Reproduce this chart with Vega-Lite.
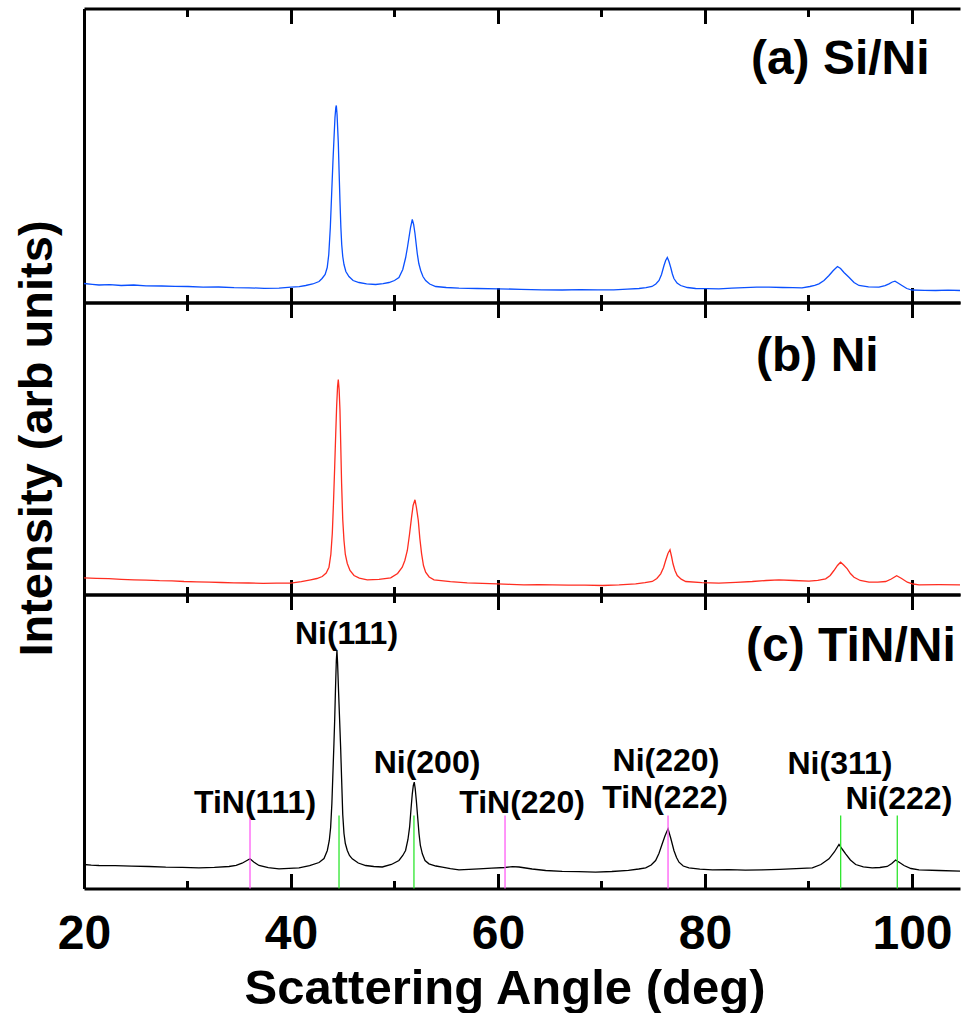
{
  "$schema": "https://vega.github.io/schema/vega-lite/v6.json",
  "padding": {"left": 12, "top": 6.5, "right": 0, "bottom": 0},
  "spacing": 0,
  "bounds": "flush",
  "config": {
    "view": {"stroke": null},
    "font": "Liberation Sans",
    "axis": {"grid": false, "domainColor": "black", "tickColor": "black", "labelColor": "black", "titleColor": "black"}
  },
  "datasets": {
    "siNi": [
      {"angle": 20.00, "intensity": 19}, {"angle": 20.8, "intensity": 18.2}, {"angle": 21.45, "intensity": 17.5}, {"angle": 22.5, "intensity": 17.8},
      {"angle": 23.6, "intensity": 17}, {"angle": 24.8, "intensity": 17.5}, {"angle": 26.0, "intensity": 16.6}, {"angle": 27.5, "intensity": 16.5},
      {"angle": 28.8, "intensity": 16.2}, {"angle": 30.05, "intensity": 16}, {"angle": 31.5, "intensity": 15.4}, {"angle": 33.0, "intensity": 15.5},
      {"angle": 34.5, "intensity": 14.8}, {"angle": 35.94, "intensity": 14.7}, {"angle": 37.4, "intensity": 14.2}, {"angle": 38.84, "intensity": 14.3},
      {"angle": 40.00, "intensity": 15.3}, {"angle": 40.8, "intensity": 15.8}, {"angle": 41.42, "intensity": 17}, {"angle": 42.1, "intensity": 18.5},
      {"angle": 42.71, "intensity": 21}, {"angle": 43.0, "intensity": 24}, {"angle": 43.3, "intensity": 28}, {"angle": 43.5, "intensity": 35},
      {"angle": 43.65, "intensity": 48}, {"angle": 43.8, "intensity": 75}, {"angle": 43.93, "intensity": 109}, {"angle": 44.05, "intensity": 140},
      {"angle": 44.15, "intensity": 163}, {"angle": 44.25, "intensity": 185}, {"angle": 44.33, "intensity": 195}, {"angle": 44.38, "intensity": 197},
      {"angle": 44.45, "intensity": 188}, {"angle": 44.57, "intensity": 160}, {"angle": 44.65, "intensity": 130}, {"angle": 44.73, "intensity": 102},
      {"angle": 44.82, "intensity": 75}, {"angle": 44.90, "intensity": 58}, {"angle": 45.0, "intensity": 46}, {"angle": 45.12, "intensity": 38},
      {"angle": 45.3, "intensity": 31}, {"angle": 45.6, "intensity": 26}, {"angle": 46.0, "intensity": 22}, {"angle": 46.57, "intensity": 20},
      {"angle": 47.3, "intensity": 18.6}, {"angle": 48.18, "intensity": 18}, {"angle": 48.9, "intensity": 18.8}, {"angle": 49.47, "intensity": 20},
      {"angle": 50.0, "intensity": 22}, {"angle": 50.43, "intensity": 25}, {"angle": 50.8, "intensity": 33}, {"angle": 51.08, "intensity": 45},
      {"angle": 51.25, "intensity": 55}, {"angle": 51.40, "intensity": 65}, {"angle": 51.55, "intensity": 75}, {"angle": 51.72, "intensity": 83},
      {"angle": 51.85, "intensity": 78}, {"angle": 51.98, "intensity": 69}, {"angle": 52.1, "intensity": 58}, {"angle": 52.20, "intensity": 49},
      {"angle": 52.35, "intensity": 39}, {"angle": 52.53, "intensity": 32}, {"angle": 52.75, "intensity": 26}, {"angle": 53.01, "intensity": 22},
      {"angle": 53.4, "intensity": 18.5}, {"angle": 53.98, "intensity": 16}, {"angle": 55.0, "intensity": 15}, {"angle": 56.23, "intensity": 14.3},
      {"angle": 58.0, "intensity": 14}, {"angle": 60.05, "intensity": 13.7}, {"angle": 62.2, "intensity": 13.2}, {"angle": 64.25, "intensity": 12.7},
      {"angle": 66.2, "intensity": 12.5}, {"angle": 68.0, "intensity": 12.9}, {"angle": 69.6, "intensity": 12.6}, {"angle": 71.18, "intensity": 12.7},
      {"angle": 72.5, "intensity": 13.3}, {"angle": 73.62, "intensity": 14}, {"angle": 74.3, "intensity": 14.8}, {"angle": 74.88, "intensity": 16},
      {"angle": 75.25, "intensity": 18.5}, {"angle": 75.56, "intensity": 22}, {"angle": 75.8, "intensity": 28}, {"angle": 76.04, "intensity": 37},
      {"angle": 76.2, "intensity": 42}, {"angle": 76.36, "intensity": 45}, {"angle": 76.52, "intensity": 41}, {"angle": 76.69, "intensity": 35},
      {"angle": 76.85, "intensity": 28.5}, {"angle": 77.00, "intensity": 24}, {"angle": 77.3, "intensity": 19.5}, {"angle": 77.65, "intensity": 17},
      {"angle": 78.3, "intensity": 15}, {"angle": 79.10, "intensity": 14}, {"angle": 80.2, "intensity": 13.8}, {"angle": 81.35, "intensity": 13.7},
      {"angle": 82.6, "intensity": 14.3}, {"angle": 83.8, "intensity": 14.8}, {"angle": 85.00, "intensity": 15.3}, {"angle": 86.18, "intensity": 15.3},
      {"angle": 87.5, "intensity": 15}, {"angle": 88.5, "intensity": 14.8}, {"angle": 89.37, "intensity": 14.7}, {"angle": 90.14, "intensity": 16},
      {"angle": 90.6, "intensity": 17.2}, {"angle": 91.01, "intensity": 18.7}, {"angle": 91.5, "intensity": 22}, {"angle": 91.98, "intensity": 27},
      {"angle": 92.40, "intensity": 32}, {"angle": 92.80, "intensity": 36}, {"angle": 93.1, "intensity": 34}, {"angle": 93.43, "intensity": 30},
      {"angle": 93.91, "intensity": 25.3}, {"angle": 94.4, "intensity": 20}, {"angle": 94.88, "intensity": 17}, {"angle": 95.8, "intensity": 15.6},
      {"angle": 96.81, "intensity": 15.3}, {"angle": 97.4, "intensity": 16.8}, {"angle": 97.78, "intensity": 18.7}, {"angle": 98.1, "intensity": 20.5},
      {"angle": 98.36, "intensity": 21.3}, {"angle": 98.65, "intensity": 19.5}, {"angle": 99.03, "intensity": 17}, {"angle": 99.5, "intensity": 14},
      {"angle": 100.0, "intensity": 12.5}, {"angle": 101.2, "intensity": 12.2}, {"angle": 102.29, "intensity": 12}, {"angle": 103.5, "intensity": 12.3},
      {"angle": 104.64, "intensity": 12}
    ],
    "ni": [
      {"angle": 20.00, "intensity": 16.7}, {"angle": 21.2, "intensity": 16.2}, {"angle": 22.4, "intensity": 15.8}, {"angle": 23.6, "intensity": 15.2},
      {"angle": 24.83, "intensity": 14.7}, {"angle": 26.0, "intensity": 14.4}, {"angle": 27.3, "intensity": 13.8}, {"angle": 28.5, "intensity": 13.6},
      {"angle": 29.66, "intensity": 13}, {"angle": 30.9, "intensity": 12.7}, {"angle": 32.1, "intensity": 12.4}, {"angle": 33.3, "intensity": 12},
      {"angle": 34.49, "intensity": 11.7}, {"angle": 35.9, "intensity": 11.5}, {"angle": 37.3, "intensity": 11.2}, {"angle": 38.6, "intensity": 11.4},
      {"angle": 39.97, "intensity": 11.3}, {"angle": 41.0, "intensity": 12.8}, {"angle": 41.90, "intensity": 14.7}, {"angle": 42.5, "intensity": 16},
      {"angle": 43.02, "intensity": 18}, {"angle": 43.4, "intensity": 21.5}, {"angle": 43.67, "intensity": 27.3}, {"angle": 43.85, "intensity": 40},
      {"angle": 43.99, "intensity": 61}, {"angle": 44.1, "intensity": 90}, {"angle": 44.22, "intensity": 127}, {"angle": 44.32, "intensity": 160},
      {"angle": 44.41, "intensity": 188}, {"angle": 44.5, "intensity": 208}, {"angle": 44.57, "intensity": 215}, {"angle": 44.65, "intensity": 205},
      {"angle": 44.73, "intensity": 185}, {"angle": 44.81, "intensity": 148}, {"angle": 44.89, "intensity": 111}, {"angle": 45.0, "intensity": 75},
      {"angle": 45.12, "intensity": 54}, {"angle": 45.25, "intensity": 40}, {"angle": 45.44, "intensity": 31}, {"angle": 45.7, "intensity": 24},
      {"angle": 46.09, "intensity": 19}, {"angle": 46.6, "intensity": 16.3}, {"angle": 47.37, "intensity": 14.7}, {"angle": 48.5, "intensity": 15.2},
      {"angle": 49.63, "intensity": 16.7}, {"angle": 50.3, "intensity": 21}, {"angle": 50.75, "intensity": 27.3}, {"angle": 51.0, "intensity": 34},
      {"angle": 51.24, "intensity": 44}, {"angle": 51.45, "intensity": 60}, {"angle": 51.65, "intensity": 77.3}, {"angle": 51.8, "intensity": 89},
      {"angle": 51.98, "intensity": 94.7}, {"angle": 52.12, "intensity": 87}, {"angle": 52.30, "intensity": 74}, {"angle": 52.45, "intensity": 56},
      {"angle": 52.62, "intensity": 40.7}, {"angle": 52.8, "intensity": 29}, {"angle": 53.01, "intensity": 22.3}, {"angle": 53.35, "intensity": 17.5},
      {"angle": 53.82, "intensity": 14.7}, {"angle": 55.4, "intensity": 12.8}, {"angle": 57.03, "intensity": 11.7}, {"angle": 58.5, "intensity": 11.2},
      {"angle": 59.93, "intensity": 10.7}, {"angle": 61.2, "intensity": 10.2}, {"angle": 62.51, "intensity": 9.7}, {"angle": 63.9, "intensity": 9.9},
      {"angle": 65.25, "intensity": 9.7}, {"angle": 66.8, "intensity": 9.3}, {"angle": 68.4, "intensity": 9.4}, {"angle": 70.08, "intensity": 9},
      {"angle": 71.7, "intensity": 9.6}, {"angle": 73.30, "intensity": 10.7}, {"angle": 74.2, "intensity": 11.8}, {"angle": 74.91, "intensity": 13},
      {"angle": 75.35, "intensity": 16}, {"angle": 75.72, "intensity": 20.7}, {"angle": 76.0, "intensity": 27}, {"angle": 76.20, "intensity": 34},
      {"angle": 76.42, "intensity": 41}, {"angle": 76.62, "intensity": 44.7}, {"angle": 76.77, "intensity": 38}, {"angle": 76.91, "intensity": 30.7},
      {"angle": 77.1, "intensity": 24}, {"angle": 77.32, "intensity": 19}, {"angle": 77.7, "intensity": 15.3}, {"angle": 78.14, "intensity": 13},
      {"angle": 79.7, "intensity": 11.8}, {"angle": 81.35, "intensity": 11.3}, {"angle": 83.0, "intensity": 12.2}, {"angle": 84.57, "intensity": 13},
      {"angle": 85.9, "intensity": 14}, {"angle": 87.15, "intensity": 14.7}, {"angle": 88.6, "intensity": 14}, {"angle": 90.05, "intensity": 13.3},
      {"angle": 90.9, "intensity": 14.2}, {"angle": 91.66, "intensity": 15.7}, {"angle": 92.1, "intensity": 19}, {"angle": 92.46, "intensity": 24},
      {"angle": 92.8, "intensity": 29}, {"angle": 93.10, "intensity": 32.3}, {"angle": 93.4, "intensity": 29.5}, {"angle": 93.75, "intensity": 25.7},
      {"angle": 94.05, "intensity": 21}, {"angle": 94.40, "intensity": 17.3}, {"angle": 95.0, "intensity": 14}, {"angle": 95.85, "intensity": 12.3},
      {"angle": 96.7, "intensity": 12.4}, {"angle": 97.46, "intensity": 13}, {"angle": 98.0, "intensity": 15.5}, {"angle": 98.52, "intensity": 18.7},
      {"angle": 99.0, "intensity": 16}, {"angle": 99.55, "intensity": 12.3}, {"angle": 100.1, "intensity": 10.5}, {"angle": 100.68, "intensity": 9.7},
      {"angle": 102.6, "intensity": 9.9}, {"angle": 104.64, "intensity": 9.7}
    ],
    "tinNi": [
      {"angle": 20.00, "intensity": 24}, {"angle": 20.7, "intensity": 23.4}, {"angle": 21.45, "intensity": 23}, {"angle": 23.0, "intensity": 22.8},
      {"angle": 24.6, "intensity": 22.3}, {"angle": 26.28, "intensity": 22}, {"angle": 27.9, "intensity": 21.4}, {"angle": 29.5, "intensity": 21.2},
      {"angle": 31.11, "intensity": 20.7}, {"angle": 32.6, "intensity": 21.2}, {"angle": 34.01, "intensity": 22}, {"angle": 34.7, "intensity": 23.2},
      {"angle": 35.27, "intensity": 25.3}, {"angle": 35.7, "intensity": 27.8}, {"angle": 36.04, "intensity": 29.7}, {"angle": 36.4, "intensity": 26.5},
      {"angle": 36.91, "intensity": 23}, {"angle": 37.8, "intensity": 20.8}, {"angle": 38.84, "intensity": 19.7}, {"angle": 39.8, "intensity": 20.1},
      {"angle": 40.77, "intensity": 20.7}, {"angle": 41.8, "intensity": 22.8}, {"angle": 42.71, "intensity": 26}, {"angle": 43.19, "intensity": 30},
      {"angle": 43.51, "intensity": 38}, {"angle": 43.7, "intensity": 48}, {"angle": 43.83, "intensity": 61}, {"angle": 43.95, "intensity": 85},
      {"angle": 44.06, "intensity": 118}, {"angle": 44.15, "intensity": 145}, {"angle": 44.22, "intensity": 168}, {"angle": 44.3, "intensity": 200},
      {"angle": 44.38, "intensity": 228}, {"angle": 44.44, "intensity": 238}, {"angle": 44.5, "intensity": 226}, {"angle": 44.6, "intensity": 196},
      {"angle": 44.70, "intensity": 168}, {"angle": 44.8, "intensity": 140}, {"angle": 44.89, "intensity": 110}, {"angle": 45.0, "intensity": 74},
      {"angle": 45.12, "intensity": 55}, {"angle": 45.25, "intensity": 45}, {"angle": 45.44, "intensity": 38}, {"angle": 45.65, "intensity": 33},
      {"angle": 45.92, "intensity": 29.7}, {"angle": 46.5, "intensity": 25.5}, {"angle": 47.22, "intensity": 23}, {"angle": 48.0, "intensity": 22},
      {"angle": 48.82, "intensity": 21.5}, {"angle": 49.7, "intensity": 24}, {"angle": 50.43, "intensity": 28}, {"angle": 50.8, "intensity": 33},
      {"angle": 51.07, "intensity": 38}, {"angle": 51.3, "intensity": 49}, {"angle": 51.46, "intensity": 61.3}, {"angle": 51.6, "intensity": 80},
      {"angle": 51.72, "intensity": 94.7}, {"angle": 51.82, "intensity": 103}, {"angle": 51.91, "intensity": 106.3}, {"angle": 52.0, "intensity": 100},
      {"angle": 52.11, "intensity": 88}, {"angle": 52.25, "intensity": 70}, {"angle": 52.37, "intensity": 54.7}, {"angle": 52.5, "intensity": 43},
      {"angle": 52.69, "intensity": 34.7}, {"angle": 52.95, "intensity": 28}, {"angle": 53.33, "intensity": 24.7}, {"angle": 54.0, "intensity": 22.5},
      {"angle": 54.62, "intensity": 21.3}, {"angle": 55.4, "intensity": 19.8}, {"angle": 56.23, "intensity": 18.7}, {"angle": 57.2, "intensity": 19.2},
      {"angle": 58.16, "intensity": 19.7}, {"angle": 59.4, "intensity": 20.4}, {"angle": 60.68, "intensity": 21}, {"angle": 61.4, "intensity": 21.8},
      {"angle": 62.03, "intensity": 21.5}, {"angle": 63.3, "intensity": 19.5}, {"angle": 64.61, "intensity": 18}, {"angle": 66.2, "intensity": 17.2},
      {"angle": 67.8, "intensity": 16.8}, {"angle": 69.43, "intensity": 16.3}, {"angle": 71.0, "intensity": 17}, {"angle": 72.6, "intensity": 18.2},
      {"angle": 73.6, "intensity": 19.5}, {"angle": 74.27, "intensity": 20.7}, {"angle": 74.8, "intensity": 23.5}, {"angle": 75.23, "intensity": 28},
      {"angle": 75.55, "intensity": 35}, {"angle": 75.87, "intensity": 44.7}, {"angle": 76.15, "intensity": 53}, {"angle": 76.43, "intensity": 59.7},
      {"angle": 76.7, "intensity": 50}, {"angle": 77.00, "intensity": 38}, {"angle": 77.25, "intensity": 31}, {"angle": 77.49, "intensity": 26.3},
      {"angle": 77.9, "intensity": 22.5}, {"angle": 78.45, "intensity": 20.7}, {"angle": 79.5, "intensity": 19.3}, {"angle": 80.71, "intensity": 18.7},
      {"angle": 82.3, "intensity": 18.9}, {"angle": 83.9, "intensity": 18.4}, {"angle": 85.54, "intensity": 18.7}, {"angle": 87.2, "intensity": 19.2},
      {"angle": 88.8, "intensity": 19.8}, {"angle": 90.37, "intensity": 20.7}, {"angle": 91.2, "intensity": 24}, {"angle": 91.98, "intensity": 29.7},
      {"angle": 92.5, "intensity": 36.5}, {"angle": 92.95, "intensity": 44}, {"angle": 93.25, "intensity": 39.5}, {"angle": 93.59, "intensity": 34.7},
      {"angle": 94.05, "intensity": 28.5}, {"angle": 94.56, "intensity": 24}, {"angle": 95.3, "intensity": 21.7}, {"angle": 96.16, "intensity": 20.7},
      {"angle": 96.9, "intensity": 21}, {"angle": 97.61, "intensity": 22}, {"angle": 98.05, "intensity": 25}, {"angle": 98.42, "intensity": 28.5},
      {"angle": 98.8, "intensity": 26}, {"angle": 99.23, "intensity": 23}, {"angle": 99.9, "intensity": 20}, {"angle": 100.68, "intensity": 18.7},
      {"angle": 102.6, "intensity": 18}, {"angle": 104.64, "intensity": 17.3}
    ],
    "panelLabels": [
      {"panel": "a", "label": "(a) Si/Ni", "angle": 84.44, "intensity": 229},
      {"panel": "b", "label": "(b) Ni", "angle": 84.93, "intensity": 224},
      {"panel": "c", "label": "(c) TiN/Ni", "angle": 83.96, "intensity": 228}
    ],
    "markers": [
      {"angle": 36.04, "phase": "TiN"}, {"angle": 44.64, "phase": "Ni"}, {"angle": 51.88, "phase": "Ni"},
      {"angle": 60.68, "phase": "TiN"}, {"angle": 76.43, "phase": "TiN"}, {"angle": 93.11, "phase": "Ni"}, {"angle": 98.58, "phase": "Ni"}
    ],
    "peakLabels": [
      {"label": "Ni(111)", "angle": 45.36, "intensity": 245},
      {"label": "Ni(200)", "angle": 53.14, "intensity": 116},
      {"label": "TiN(111)", "angle": 36.52, "intensity": 76},
      {"label": "TiN(220)", "angle": 62.32, "intensity": 76},
      {"label": "Ni(220)", "angle": 76.23, "intensity": 118},
      {"label": "TiN(222)", "angle": 76.14, "intensity": 81},
      {"label": "Ni(311)", "angle": 93.04, "intensity": 115},
      {"label": "Ni(222)", "angle": 98.74, "intensity": 80}
    ]
  },
  "vconcat": [
    {
      "width": 876, "height": 294,
      "layer": [
        {
          "data": {"name": "siNi"},
          "mark": {"type": "line", "color": "#0a50ff", "strokeWidth": 1.3},
          "encoding": {
            "x": {"field": "angle", "type": "quantitative", "scale": {"domain": [20, 104.64], "nice": false, "zero": false},
              "axis": {"orient": "bottom", "values": [20, 30, 40, 50, 60, 70, 80, 90, 100], "labels": false, "title": null, "domainWidth": 3, "tickWidth": 3,
                "tickSize": {"condition": {"test": "datum.value % 20 === 0", "value": -15}, "value": -8}}},
            "y": {"field": "intensity", "type": "quantitative", "scale": {"domain": [0, 294], "nice": false},
              "axis": {"orient": "left", "ticks": false, "labels": false, "title": null, "domainWidth": 3}}
          }
        },
        {
          "data": {"name": "panelLabels"},
          "transform": [{"filter": "datum.panel === 'a'"}],
          "mark": {"type": "text", "align": "left", "baseline": "alphabetic", "fontSize": 48, "fontWeight": "bold", "font": "Liberation Sans", "color": "black"},
          "encoding": {
            "x": {"field": "angle", "type": "quantitative", "scale": {"domain": [20, 104.64], "nice": false, "zero": false},
              "axis": {"orient": "top", "values": [20, 30, 40, 50, 60, 70, 80, 90, 100], "labels": false, "title": null, "domainWidth": 3, "tickWidth": 3,
                "tickSize": {"condition": {"test": "datum.value % 20 === 0", "value": -15}, "value": -8}}},
            "y": {"field": "intensity", "type": "quantitative", "scale": {"domain": [0, 294], "nice": false},
              "axis": {"orient": "left", "ticks": false, "labels": false, "title": null, "domainWidth": 3}},
            "text": {"field": "label"}
          }
        }
      ],
      "resolve": {"axis": {"x": "independent"}}
    },
    {
      "width": 876, "height": 292,
      "layer": [
        {
          "data": {"name": "ni"},
          "mark": {"type": "line", "color": "#ff2d20", "strokeWidth": 1.3},
          "encoding": {
            "x": {"field": "angle", "type": "quantitative", "scale": {"domain": [20, 104.64], "nice": false, "zero": false},
              "axis": {"orient": "bottom", "values": [20, 30, 40, 50, 60, 70, 80, 90, 100], "labels": false, "title": null, "domainWidth": 3, "tickWidth": 3,
                "tickSize": {"condition": {"test": "datum.value % 20 === 0", "value": -15}, "value": -8}}},
            "y": {"field": "intensity", "type": "quantitative", "scale": {"domain": [0, 292], "nice": false},
              "axis": {"orient": "left", "ticks": false, "labels": false, "domainWidth": 3,
                "title": "Intensity (arb units)", "titleFont": "Liberation Sans", "titleFontSize": 47, "titleFontWeight": "bold",
                "titleAngle": 270, "titleBaseline": "alphabetic", "titleAlign": "center", "titleX": -33, "titleY": 135.5}}
          }
        },
        {
          "data": {"name": "panelLabels"},
          "transform": [{"filter": "datum.panel === 'b'"}],
          "mark": {"type": "text", "align": "left", "baseline": "alphabetic", "fontSize": 48, "fontWeight": "bold", "font": "Liberation Sans", "color": "black"},
          "encoding": {
            "x": {"field": "angle", "type": "quantitative", "scale": {"domain": [20, 104.64], "nice": false, "zero": false},
              "axis": {"orient": "top", "values": [20, 30, 40, 50, 60, 70, 80, 90, 100], "labels": false, "title": null, "domainWidth": 3, "tickWidth": 3,
                "tickSize": {"condition": {"test": "datum.value % 20 === 0", "value": -15}, "value": -8}}},
            "y": {"field": "intensity", "type": "quantitative", "scale": {"domain": [0, 292], "nice": false},
              "axis": {"orient": "left", "ticks": false, "labels": false, "domainWidth": 3,
                "title": "Intensity (arb units)", "titleFont": "Liberation Sans", "titleFontSize": 47, "titleFontWeight": "bold",
                "titleAngle": 270, "titleBaseline": "alphabetic", "titleAlign": "center", "titleX": -33, "titleY": 135.5}},
            "text": {"field": "label"}
          }
        }
      ],
      "resolve": {"axis": {"x": "independent"}}
    },
    {
      "width": 876, "height": 294,
      "layer": [
        {
          "data": {"name": "tinNi"},
          "mark": {"type": "line", "color": "black", "strokeWidth": 1.3},
          "encoding": {
            "x": {"field": "angle", "type": "quantitative", "scale": {"domain": [20, 104.64], "nice": false, "zero": false},
              "axis": {"orient": "bottom", "values": [20, 30, 40, 50, 60, 70, 80, 90, 100], "domainWidth": 3, "tickWidth": 3,
                "tickSize": {"condition": {"test": "datum.value % 20 === 0", "value": -15}, "value": -8},
                "labelExpr": "datum.value % 20 === 0 ? datum.label : ''", "labelFont": "Liberation Sans", "labelFontSize": 48, "labelFontWeight": "bold",
                "labelPadding": 37, "labelFlush": false, "labelOverlap": false, "labelBound": false,
                "title": "Scattering Angle (deg)", "titleFont": "Liberation Sans", "titleFontSize": 49, "titleFontWeight": "bold",
                "titleBaseline": "alphabetic", "titleAlign": "center", "titleX": 420.5, "titleY": 115}},
            "y": {"field": "intensity", "type": "quantitative", "scale": {"domain": [0, 294], "nice": false},
              "axis": {"orient": "left", "ticks": false, "labels": false, "title": null, "domainWidth": 3}}
          }
        },
        {
          "data": {"name": "markers"},
          "mark": {"type": "rule", "strokeWidth": 1.3},
          "encoding": {
            "x": {"field": "angle", "type": "quantitative", "axis": null},
            "y": {"datum": 0, "type": "quantitative", "scale": {"domain": [0, 294], "nice": false},
              "axis": {"orient": "left", "ticks": false, "labels": false, "title": null, "domainWidth": 3}},
            "y2": {"datum": 73},
            "color": {"field": "phase", "type": "nominal", "scale": {"domain": ["TiN", "Ni"], "range": ["#ff5cf5", "#2ee62e"]}, "legend": null}
          }
        },
        {
          "data": {"name": "peakLabels"},
          "mark": {"type": "text", "align": "center", "baseline": "alphabetic", "fontSize": 32, "fontWeight": "bold", "font": "Liberation Sans", "color": "black"},
          "encoding": {
            "x": {"field": "angle", "type": "quantitative", "axis": null},
            "y": {"field": "intensity", "type": "quantitative", "scale": {"domain": [0, 294], "nice": false},
              "axis": {"orient": "left", "ticks": false, "labels": false, "title": null, "domainWidth": 3}},
            "text": {"field": "label"}
          }
        },
        {
          "data": {"name": "panelLabels"},
          "transform": [{"filter": "datum.panel === 'c'"}],
          "mark": {"type": "text", "align": "left", "baseline": "alphabetic", "fontSize": 48, "fontWeight": "bold", "font": "Liberation Sans", "color": "black"},
          "encoding": {
            "x": {"field": "angle", "type": "quantitative", "scale": {"domain": [20, 104.64], "nice": false, "zero": false},
              "axis": {"orient": "top", "values": [20, 30, 40, 50, 60, 70, 80, 90, 100], "labels": false, "title": null, "domainWidth": 3, "tickWidth": 3,
                "tickSize": {"condition": {"test": "datum.value % 20 === 0", "value": -15}, "value": -8}}},
            "y": {"field": "intensity", "type": "quantitative", "scale": {"domain": [0, 294], "nice": false},
              "axis": {"orient": "left", "ticks": false, "labels": false, "title": null, "domainWidth": 3}},
            "text": {"field": "label"}
          }
        }
      ],
      "resolve": {"axis": {"x": "independent"}}
    }
  ]
}
